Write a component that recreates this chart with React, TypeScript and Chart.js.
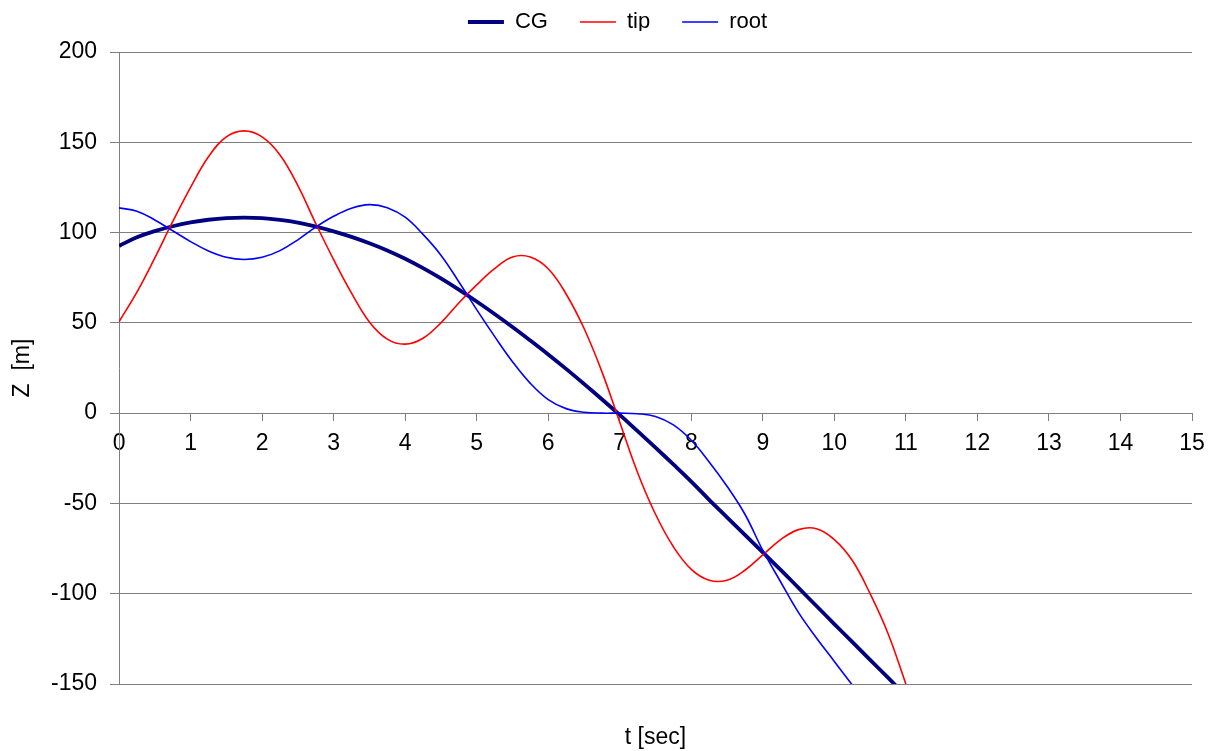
import React, { useEffect, useRef } from "react";
import { Chart, registerables } from "chart.js";

Chart.register(...registerables);

// time axis (seconds)
const times = [
  0, 0.25, 0.5, 0.75, 1, 1.25, 1.5, 1.75, 2, 2.25, 2.5, 2.75, 3, 3.25, 3.5, 3.75,
  4, 4.25, 4.5, 4.75, 5, 5.25, 5.5, 5.75, 6, 6.25, 6.5, 6.75, 7, 7.25, 7.5, 7.75,
  8, 8.25, 8.5, 8.75, 9, 9.25, 9.5, 9.75, 10, 10.25, 10.5, 10.75, 11,
];

// Z [m] values
const cgValues = [
  92.6, 97.4, 100.8, 103.5, 105.6, 107.1, 108.0, 108.3, 108.0, 107.0, 105.5, 103.3,
  100.7, 97.6, 94.1, 90.1, 85.5, 80.3, 74.6, 68.4, 61.8, 54.9, 47.7, 40.2, 32.5,
  24.5, 16.2, 7.7, -1.0, -10.0, -19.1, -28.4, -37.9, -48.0, -57.7, -67.4, -77.1,
  -86.8, -96.8, -106.8, -116.8, -126.7, -136.6, -146.5, -156.5,
];

const tipValues = [
  50.6, 67, 86, 106, 125, 142, 153, 156.3, 153, 143, 126, 105, 85, 66.5, 50.5, 41,
  38.2, 41.5, 50, 61, 71, 80, 86.5, 86.5, 80, 66, 47, 23, -5, -33, -56, -74, -86.5,
  -92.5, -92.5, -87, -78.5, -70, -64.5, -64, -70, -81.5, -100, -122, -150,
];

const rootValues: (number | null)[] = [
  113.7, 111.8, 107, 101, 95, 89.8, 86.3, 85.1, 86.3, 90, 96, 103, 109, 113.5, 115.5,
  113.8, 108.5, 99, 87.5, 72.8, 57.3, 42.5, 28.5, 16.5, 7.5, 2.5, 0.5, 0, 0, -0.3, -1.8,
  -6.5, -15, -27, -40.5, -56, -76, -93.5, -110.5, -124.5, -137.5, -150.5, null, null, null,
];

const seriesNames = ["CG", "tip", "root"];
const seriesColors = ["#000080", "#FF0000", "#0000FF"];
const seriesWidths = [3.8, 1.6, 1.6];

const xMin = 0;
const xMax = 15;
const xStep = 1;
const yMin = -150;
const yMax = 200;
const yStep = 50;

const xTitle = "t [sec]";
const yTitle = "Z  [m]";

const FAMILY = "'Liberation Sans', Arial, sans-serif";
const GRID = "#7f7f7f";

export default function App() {
  const canvasRef = useRef<HTMLCanvasElement | null>(null);

  useEffect(() => {
    const canvas = canvasRef.current;
    if (!canvas) return;

    const toPoints = (vals: (number | null)[]) =>
      times
        .map((t, i) => ({ x: t, y: vals[i] }))
        .filter((p) => p.y !== null && p.y !== undefined);

    const allSeries = [cgValues, tipValues, rootValues];

    const legendFit = {
      id: "legendFit",
      afterInit(chart: any) {
        const legend = chart.legend;
        if (!legend) return;
        const orig = legend.fit;
        legend.fit = function (this: any) {
          orig.call(this);
          this.height = 52;
        };
      },
      afterLayout(chart: any) {
        const l = chart.legend;
        if (!l) return;
        l.left += 21.5;
        l.right += 21.5;
        l.top -= 21;
        l.bottom -= 21;
      },
    };

    const chart = new Chart(canvas, {
      type: "line",
      data: {
        datasets: seriesNames.map((name, i) => ({
          label: name,
          data: toPoints(allSeries[i]) as any,
          borderColor: seriesColors[i],
          backgroundColor: seriesColors[i],
          borderWidth: seriesWidths[i],
          pointRadius: 0,
          pointHoverRadius: 0,
          fill: false,
          tension: 0.4,
          xAxisID: "x",
          yAxisID: "y",
          order: 3 - i,
        })),
      },
      options: {
        responsive: false,
        animation: false,
        devicePixelRatio: 1,
        events: [],
        layout: { padding: { left: 0, right: 20, top: 0, bottom: 0 } },
        plugins: {
          tooltip: { enabled: false },
          legend: {
            display: true,
            position: "top",
            align: "center",
            labels: {
              usePointStyle: true,
              pointStyle: "line",
              pointStyleWidth: 36,
              padding: 32,
              color: "#000",
              font: { family: FAMILY, size: 22 },
              sort: (a: any, b: any) => a.datasetIndex - b.datasetIndex,
            },
          },
        },
        scales: {
          x: {
            type: "linear",
            position: "bottom",
            min: xMin,
            max: xMax,
            ticks: { display: false },
            grid: { display: false, drawTicks: false, tickLength: 0 },
            border: { display: false },
            title: {
              display: true,
              text: xTitle,
              color: "#000",
              font: { family: FAMILY, size: 23 },
              padding: { top: 39.4, bottom: 0 },
            },
          },
          x2: {
            type: "linear",
            axis: "x",
            position: { y: 0 },
            min: xMin,
            max: xMax,
            afterFit: (scale: any) => {
              scale.paddingLeft = 0;
              scale.paddingRight = 0;
            },
            ticks: {
              stepSize: xStep,
              autoSkip: false,
              maxRotation: 0,
              color: "#000",
              padding: 10,
              font: { family: FAMILY, size: 23 },
            },
            grid: {
              drawOnChartArea: false,
              color: GRID,
              tickLength: 7,
            },
            border: { display: true, color: GRID, width: 1 },
          },
          y: {
            type: "linear",
            position: "left",
            min: yMin,
            max: yMax,
            ticks: {
              stepSize: yStep,
              color: "#000",
              padding: 13,
              font: { family: FAMILY, size: 23 },
            },
            grid: { color: GRID, lineWidth: 1, tickLength: 9 },
            border: { display: true, color: GRID, width: 1 },
            title: {
              display: true,
              text: yTitle,
              color: "#000",
              font: { family: FAMILY, size: 23 },
              padding: { top: 9, bottom: 1.4 },
            },
          },
        } as any,
      },
      plugins: [legendFit],
    });

    return () => {
      chart.destroy();
    };
  }, []);

  return (
    <div
      style={{
        position: "fixed",
        left: 0,
        top: 0,
        width: 1212,
        height: 751,
        background: "#fff",
      }}
    >
      <canvas ref={canvasRef} width={1212} height={751} style={{ display: "block" }} />
    </div>
  );
}
